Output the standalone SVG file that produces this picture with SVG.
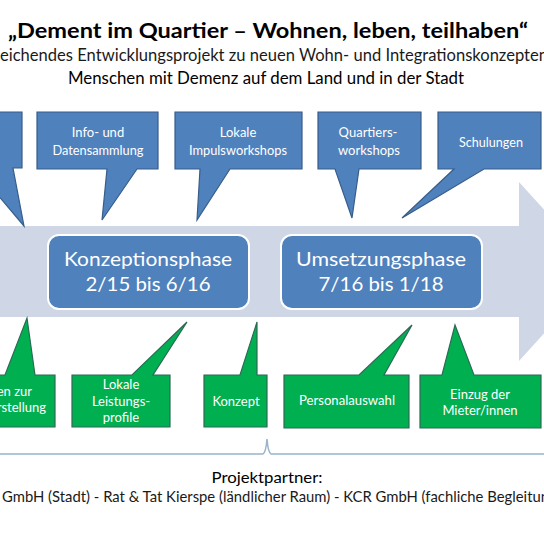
<svg xmlns="http://www.w3.org/2000/svg" width="544" height="544" viewBox="0 0 544 544">
<style>
text{font-family:Lato,"Open Sans","Liberation Sans",sans-serif}
.t{fill:#000;text-anchor:middle}
.w{fill:#fff;text-anchor:middle;font-size:13px}
.b{fill:#4f81bd;stroke:#385d8a;stroke-width:1.2}
.g{fill:#00b050;stroke:#2a6b55;stroke-width:1.2}
.ph{fill:#4f81bd;stroke:#fff;stroke-width:2}
.pt{fill:#fff;text-anchor:middle;font-size:19px}
</style>
<rect width="544" height="544" fill="#fff"/>
<g id="title">
<text class="t" x="268" y="38" font-size="21" font-weight="bold" textLength="520" lengthAdjust="spacingAndGlyphs">„Dement im Quartier – Wohnen, leben, teilhaben“</text>
<text x="0" y="61" font-size="17" fill="#1a1a1a" textLength="548" lengthAdjust="spacingAndGlyphs">eichendes Entwicklungsprojekt zu neuen Wohn- und Integrationskonzepten</text>
<text class="t" x="266" y="84" font-size="17" fill="#1a1a1a" textLength="396" lengthAdjust="spacingAndGlyphs">Menschen mit Demenz auf dem Land und in der Stadt</text>
</g>
<g id="timeline">
<path d="M-10,226 H519 V182 L600,271.5 L519,361 V317 H-10 Z" fill="#cfd7e7"/>
</g>
<g id="phase1">
<rect class="ph" x="48" y="235" width="201" height="74" rx="11"/>
<text class="pt" x="148" y="266" textLength="168" lengthAdjust="spacingAndGlyphs">Konzeptionsphase</text>
<text class="pt" x="148" y="291" textLength="125" lengthAdjust="spacingAndGlyphs">2/15 bis 6/16</text>
</g>
<g id="phase2">
<rect class="ph" x="281" y="235" width="201" height="74" rx="11"/>
<text class="pt" x="381" y="266" textLength="170" lengthAdjust="spacingAndGlyphs">Umsetzungsphase</text>
<text class="pt" x="381" y="291" textLength="125" lengthAdjust="spacingAndGlyphs">7/16 bis 1/18</text>
</g>
<g id="callouts-top">
<g id="c1"><path class="b" d="M-40,112 H22 V168 H13 L24,226 L-25,168 H-40 Z"/></g>
<g id="c2"><path class="b" d="M37,112 H158 V169 H137 L102,220 L107,169 H37 Z"/>
<text class="w" x="98" y="137">Info- und</text>
<text class="w" x="98" y="155" textLength="91" lengthAdjust="spacingAndGlyphs">Datensammlung</text></g>
<g id="c3"><path class="b" d="M175,112 H302 V169 H230 L197,220 L200,169 H175 Z"/>
<text class="w" x="238" y="137">Lokale</text>
<text class="w" x="238" y="155" textLength="98" lengthAdjust="spacingAndGlyphs">Impulsworkshops</text></g>
<g id="c4"><path class="b" d="M318,112 H421 V169 H359 L352,218 L335,169 H318 Z"/>
<text class="w" x="368" y="137">Quartiers-</text>
<text class="w" x="369" y="155">workshops</text></g>
<g id="c5"><path class="b" d="M438,112 H541 V169 H484 L402,218 L454,169 H438 Z"/>
<text class="w" x="491" y="147" textLength="64" lengthAdjust="spacingAndGlyphs">Schulungen</text></g>
</g>
<g id="callouts-bottom">
<g id="g1"><path class="g" d="M-40,375 H5 L27,318 L35,375 H55 V427 H-40 Z"/>
<text class="w" x="32" y="396" style="text-anchor:end">en zur</text>
<text class="w" x="46" y="412" style="text-anchor:end">rstellung</text></g>
<g id="g2"><path class="g" d="M72,375 H132 L187,322 L153,375 H170 V427 H72 Z"/>
<text class="w" x="121" y="389">Lokale</text>
<text class="w" x="121" y="406">Leistungs-</text>
<text class="w" x="121" y="422">profile</text></g>
<g id="g3"><path class="g" d="M204,375 H240 L257,322 L257,375 H267 V427 H204 Z"/>
<text class="w" x="236" y="406">Konzept</text></g>
<g id="g4"><path class="g" d="M284,375 H359 L412,325 L384,375 H409 V428 H284 Z"/>
<text class="w" x="347" y="405" textLength="96" lengthAdjust="spacingAndGlyphs">Personalauswahl</text></g>
<g id="g5"><path class="g" d="M420,375 H442 L455,325 L474,375 H541 V428 H420 Z"/>
<text class="w" x="480" y="399">Einzug der</text>
<text class="w" x="480" y="415">Mieter/innen</text></g>
</g>
<g id="connectors">
<path d="M-5,454 H263 Q266,452 267,439 Q268,452 271,454 H549" fill="none" stroke="#9ab3cb" stroke-width="1.5"/>
</g>
<g id="partners">
<text class="t" x="267" y="483" font-size="16" fill="#1a1a1a" textLength="111" lengthAdjust="spacingAndGlyphs">Projektpartner:</text>
<text x="2" y="502" font-size="16" fill="#1a1a1a" textLength="547" lengthAdjust="spacingAndGlyphs">GmbH (Stadt) - Rat &amp; Tat Kierspe (ländlicher Raum) - KCR GmbH (fachliche Begleitun</text>
</g>
</svg>
